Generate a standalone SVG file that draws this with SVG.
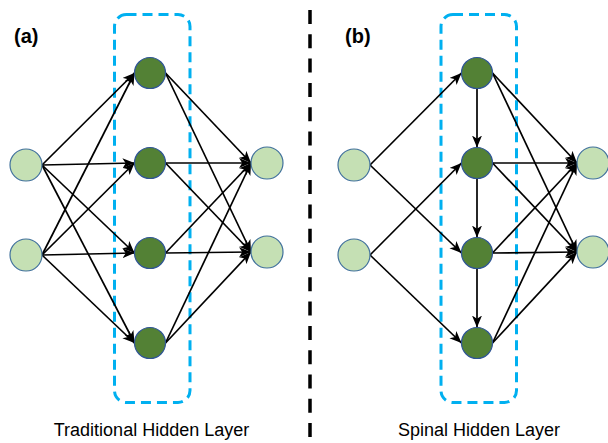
<svg xmlns="http://www.w3.org/2000/svg" width="608" height="443" viewBox="0 0 608 443">
<style>
.io{fill:#C5E0B4;stroke:#41719C;stroke-width:1.2}
.hid{fill:#538135;stroke:#2F5597;stroke-width:1.2}
.box{fill:none;stroke:#00B0F0;stroke-width:3;stroke-dasharray:10 6}
.e{stroke:#000;stroke-width:1.7;fill:none;marker-end:url(#ah)}
.lbl{font-family:"Liberation Sans",Arial,sans-serif;font-size:20px;font-weight:bold;fill:#000}
.cap{font-family:"Liberation Sans",Arial,sans-serif;font-size:18px;fill:#000;text-anchor:middle}
</style>
<defs>
<marker id="ah" markerUnits="userSpaceOnUse" markerWidth="13" markerHeight="11" refX="12" refY="5" orient="auto" viewBox="0 0 13 11">
<path d="M0,0 L12,5 L0,10 L3.2,5 Z" fill="#000"/>
</marker>
</defs>
<rect width="608" height="443" fill="#fff"/>

<g id="divider"><line x1="310" y1="10" x2="310" y2="443" stroke="#000" stroke-width="3.5" stroke-dasharray="14 10.3"/></g>

<g id="layerA"><rect class="box" x="114.5" y="14.5" width="75.5" height="388" rx="12"/></g>
<g id="layerB"><rect class="box" x="441" y="14.5" width="75.5" height="388" rx="12"/></g>

<g id="connectors">
<line class="e" x1="42" y1="165" x2="134.5" y2="73"/>
<line class="e" x1="42" y1="165" x2="134.5" y2="163"/>
<line class="e" x1="42" y1="165" x2="134.5" y2="253"/>
<line class="e" x1="42" y1="165" x2="134.5" y2="343"/>
<line class="e" x1="42" y1="255" x2="134.5" y2="73"/>
<line class="e" x1="42" y1="255" x2="134.5" y2="163"/>
<line class="e" x1="42" y1="255" x2="134.5" y2="253"/>
<line class="e" x1="42" y1="255" x2="134.5" y2="343"/>
<line class="e" x1="165.5" y1="73" x2="251" y2="163"/>
<line class="e" x1="165.5" y1="73" x2="251" y2="252"/>
<line class="e" x1="165.5" y1="163" x2="251" y2="163"/>
<line class="e" x1="165.5" y1="163" x2="251" y2="252"/>
<line class="e" x1="165.5" y1="253" x2="251" y2="163"/>
<line class="e" x1="165.5" y1="253" x2="251" y2="252"/>
<line class="e" x1="165.5" y1="343" x2="251" y2="163"/>
<line class="e" x1="165.5" y1="343" x2="251" y2="252"/>
<line class="e" x1="370" y1="165" x2="461.5" y2="73"/>
<line class="e" x1="370" y1="165" x2="461.5" y2="253"/>
<line class="e" x1="370" y1="255" x2="461.5" y2="163"/>
<line class="e" x1="370" y1="255" x2="461.5" y2="343"/>
<line class="e" x1="477" y1="88.5" x2="477" y2="147.5"/>
<line class="e" x1="477" y1="178.5" x2="477" y2="237.5"/>
<line class="e" x1="477" y1="268.5" x2="477" y2="327.5"/>
<line class="e" x1="492.5" y1="73" x2="577" y2="163"/>
<line class="e" x1="492.5" y1="73" x2="577" y2="252"/>
<line class="e" x1="492.5" y1="163" x2="577" y2="163"/>
<line class="e" x1="492.5" y1="163" x2="577" y2="252"/>
<line class="e" x1="492.5" y1="253" x2="577" y2="163"/>
<line class="e" x1="492.5" y1="253" x2="577" y2="252"/>
<line class="e" x1="492.5" y1="343" x2="577" y2="163"/>
<line class="e" x1="492.5" y1="343" x2="577" y2="252"/>
</g>

<g id="a-in1"><circle class="io" cx="26" cy="165" r="16"/></g>
<g id="a-in2"><circle class="io" cx="26" cy="255" r="16"/></g>
<g id="a-h1"><circle class="hid" cx="150" cy="73" r="15.5"/></g>
<g id="a-h2"><circle class="hid" cx="150" cy="163" r="15.5"/></g>
<g id="a-h3"><circle class="hid" cx="150" cy="253" r="15.5"/></g>
<g id="a-h4"><circle class="hid" cx="150" cy="343" r="15.5"/></g>
<g id="a-out1"><circle class="io" cx="267" cy="163" r="16"/></g>
<g id="a-out2"><circle class="io" cx="267" cy="252" r="16"/></g>

<g id="b-in1"><circle class="io" cx="354" cy="165" r="16"/></g>
<g id="b-in2"><circle class="io" cx="354" cy="255" r="16"/></g>
<g id="b-h1"><circle class="hid" cx="477" cy="73" r="15.5"/></g>
<g id="b-h2"><circle class="hid" cx="477" cy="163" r="15.5"/></g>
<g id="b-h3"><circle class="hid" cx="477" cy="253" r="15.5"/></g>
<g id="b-h4"><circle class="hid" cx="477" cy="343" r="15.5"/></g>
<g id="b-out1"><circle class="io" cx="593" cy="163" r="16"/></g>
<g id="b-out2"><circle class="io" cx="593" cy="252" r="16"/></g>

<g id="labels">
<text class="lbl" x="14" y="43">(a)</text>
<text class="lbl" x="345" y="43">(b)</text>
<text class="cap" x="151.5" y="436">Traditional Hidden Layer</text>
<text class="cap" x="479" y="436">Spinal Hidden Layer</text>
</g>
</svg>
